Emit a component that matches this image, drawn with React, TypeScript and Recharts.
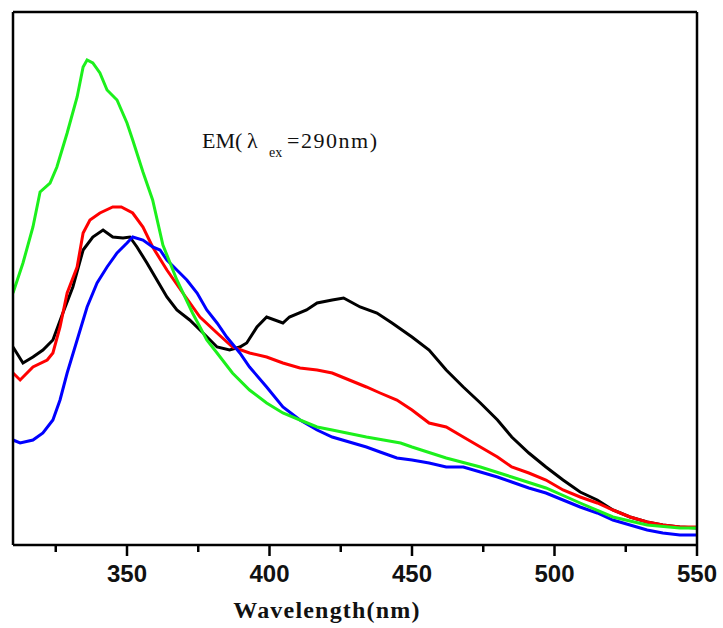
import React from 'react';
import { LineChart, Line, XAxis, YAxis, ReferenceLine, Customized } from 'recharts';

// Wavelength (nm) sample points and relative intensity (a.u.) for each spectrum
const greenWl = [310, 313.5, 317, 319.5, 323, 325.4, 329, 332.5, 334.6, 336, 338, 340.5, 343, 346.5, 350, 352, 355.6, 359, 362.6, 367.5, 373, 378, 381.6, 387, 393, 399, 404.7, 410.7, 416.7, 422, 434, 446, 450, 462, 474, 485, 497, 509, 520.5, 532.5, 544, 550];
const greenVal = [252, 282, 318, 353, 362, 378, 412, 448, 478, 485, 482, 472, 455, 445, 422, 405, 373, 345, 300, 265, 232, 205, 192, 172, 155, 142, 132, 125, 118, 115, 108, 102, 98, 87, 78, 68, 57, 42, 28, 20, 17, 17];

const redWl = [310, 312.5, 317, 322, 324, 326.5, 329, 332.5, 334.6, 337, 340.5, 345, 348, 352, 355.6, 359, 364, 369.6, 375.6, 381.6, 387, 393, 399, 404.7, 410.7, 416.7, 422, 428, 434, 438.8, 444.7, 450, 456, 462, 468, 474, 480, 485, 491, 497, 503, 509, 515, 520.5, 526.5, 532.5, 538, 544, 550];
const redVal = [172, 165, 178, 185, 192, 218, 252, 278, 312, 325, 332, 338, 338, 332, 318, 298, 275, 252, 228, 212, 198, 192, 188, 182, 177, 175, 172, 165, 158, 152, 145, 135, 122, 118, 108, 98, 88, 78, 72, 65, 55, 48, 42, 35, 28, 23, 20, 18, 18];

const blackWl = [310, 313.5, 317, 320.5, 324, 327.5, 331, 334.6, 338, 341.6, 345, 348.6, 351, 353.5, 357, 360.5, 364, 367.5, 372, 376.7, 381.6, 386, 389.6, 392, 395.6, 399, 404.7, 407, 413, 416.7, 422, 426, 431.8, 437.7, 443, 450, 456, 462, 468, 474, 480, 485, 491, 497, 503, 509, 515, 520.5, 526.5, 532.5, 538, 544, 550];
const blackVal = [198, 182, 188, 195, 205, 232, 258, 295, 308, 315, 308, 307, 308, 298, 282, 265, 248, 235, 225, 212, 198, 195, 198, 202, 218, 228, 222, 228, 235, 242, 245, 247, 238, 232, 222, 208, 195, 175, 158, 142, 125, 108, 92, 78, 65, 53, 45, 35, 28, 23, 20, 18, 17];

const blueWl = [310, 312.5, 317, 320.5, 324, 326.5, 329, 332.5, 336, 339.5, 343, 346.5, 350, 352, 355.6, 359, 361.6, 364, 367.5, 371, 374.6, 378, 381.6, 385, 389.6, 393, 399, 404.7, 410.7, 416.7, 422, 434, 438.8, 444.7, 450, 456, 462, 468, 474, 480, 485, 491, 497, 503, 509, 515, 520.5, 526.5, 532.5, 538, 544, 550];
const blueVal = [105, 102, 105, 112, 125, 145, 172, 205, 238, 262, 278, 292, 302, 308, 305, 298, 295, 285, 275, 265, 252, 235, 222, 208, 192, 178, 158, 138, 125, 115, 108, 98, 93, 87, 85, 82, 78, 78, 73, 68, 63, 57, 52, 45, 38, 32, 25, 20, 15, 12, 10, 10];

const xTicks = [325, 350, 375, 400, 425, 450, 475, 500, 525, 550];
const majorTicks = [350, 400, 450, 500, 550];
const xDomain = [310, 550];
const yDomain = [0, 533];

const toPoints = (wl: number[], val: number[]) => wl.map((w, i) => ({ wl: w, v: val[i] }));

const series = [
  { name: 'black', color: '#000000', data: toPoints(blackWl, blackVal) },
  { name: 'red', color: '#ff0000', data: toPoints(redWl, redVal) },
  { name: 'blue', color: '#0000ff', data: toPoints(blueWl, blueVal) },
  { name: 'green', color: '#1cf01c', data: toPoints(greenWl, greenVal) },
];

const BottomTick = (props: any) => {
  const { x, y, payload } = props;
  const major = majorTicks.includes(payload.value);
  return (
    <g>
      <line x1={x} x2={x} y1={y} y2={y + (major ? 11 : 7)} stroke="#000" strokeWidth={2.5} />
      {major && (
        <text
          x={x}
          y={y + 37}
          textAnchor="middle"
          fontFamily="'Liberation Sans', Arial, sans-serif"
          fontWeight="bold"
          fontSize={24}
          fill="#111"
        >
          {payload.value}
        </text>
      )}
    </g>
  );
};

const Annotations = () => (
  <g>
    <text fontFamily="'Liberation Serif', 'Times New Roman', serif" fontSize={22} fill="#111">
      <tspan x={202} y={148}>EM(</tspan>
      <tspan x={247} y={148}>λ</tspan>
      <tspan x={269} y={157} fontSize={14}>ex</tspan>
      <tspan x={287} y={148} textLength={90} lengthAdjust="spacing">=290nm)</tspan>
    </text>
    <text
      x={327}
      y={618}
      textAnchor="middle"
      fontFamily="'Liberation Serif', 'Times New Roman', serif"
      fontWeight="bold"
      fontSize={24}
      letterSpacing={1.2}
      fill="#111"
    >
      Wavelength(nm)
    </text>
  </g>
);

export default function App() {
  return (
    <div style={{ position: 'absolute', left: 0, top: 0, background: '#fff' }}>
      <LineChart width={723} height={628} margin={{ top: 12, left: 13, right: 26, bottom: 0 }}>
        <XAxis
          dataKey="wl"
          type="number"
          domain={xDomain}
          ticks={xTicks}
          interval={0}
          allowDataOverflow
          height={83}
          tickSize={0}
          tickMargin={0}
          tickLine={false}
          tick={<BottomTick />}
          axisLine={{ stroke: '#000', strokeWidth: 2.5 }}
        />
        <YAxis type="number" domain={yDomain} hide />
        {series.map((s) => (
          <Line
            key={s.name}
            name={s.name}
            data={s.data}
            dataKey="v"
            type="linear"
            stroke={s.color}
            strokeWidth={3}
            dot={false}
            activeDot={false}
            isAnimationActive={false}
          />
        ))}
        <ReferenceLine x={310} stroke="#000" strokeWidth={2.5} ifOverflow="visible" />
        <ReferenceLine x={550} stroke="#000" strokeWidth={2.5} ifOverflow="visible" />
        <ReferenceLine y={533} stroke="#000" strokeWidth={2.5} ifOverflow="visible" />
        <Customized component={Annotations} />
      </LineChart>
    </div>
  );
}
